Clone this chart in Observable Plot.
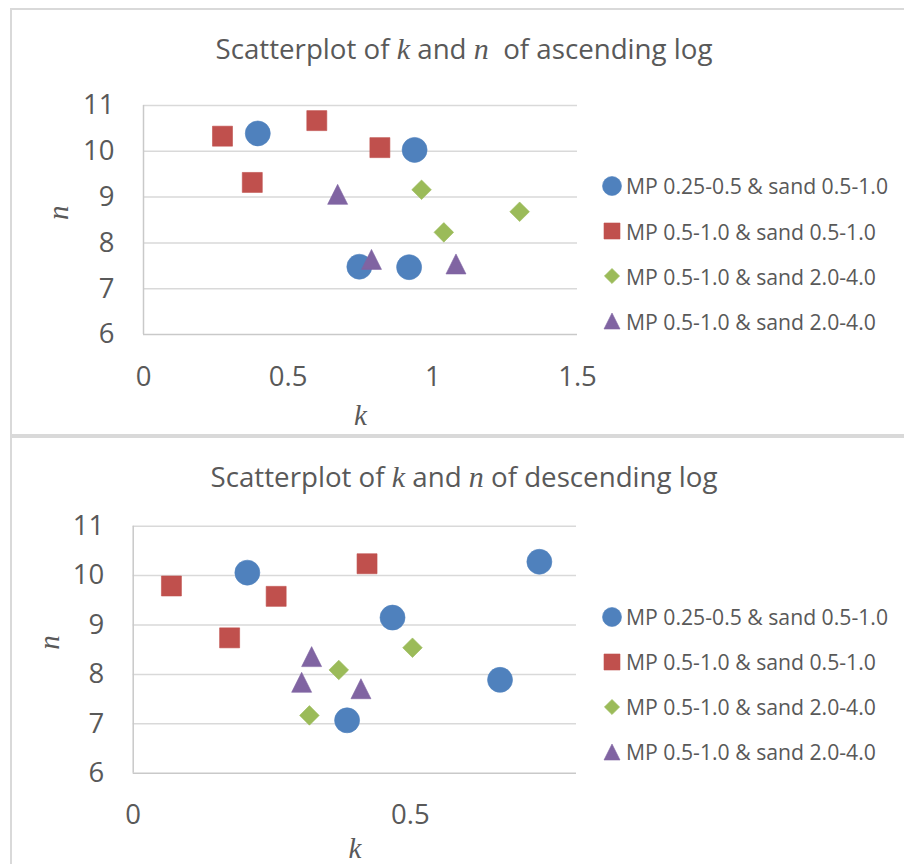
<!DOCTYPE html>
<html>
<head>
<meta charset="utf-8">
<script src="https://cdn.jsdelivr.net/npm/d3@7"></script>
<script src="https://cdn.jsdelivr.net/npm/@observablehq/plot@0.6"></script>
<style>
  html, body { margin: 0; padding: 0; background: #fff; }
  #root { position: relative; width: 904px; height: 864px; overflow: hidden; font-family: "Open Sans", sans-serif; color: #595959; }
  .panel { position: absolute; border: 2px solid #d9d9d9; box-sizing: border-box; }
  .title { position: absolute; left: 0; width: 928px; text-align: center; font-size: 27.7px; line-height: 27.7px; white-space: pre; }
  .math { font-family: "Liberation Serif", serif; font-style: italic; font-size: 30px; }
  .leg { position: absolute; left: 600px; height: 30px; display: flex; align-items: center; font-size: 21.2px; white-space: pre; }
  .leg svg { display: block; margin-right: 2px; }
  .plotwrap { position: absolute; left: 0; }
</style>
</head>
<body>
<div id="root">
  <div class="panel" style="left:10px; top:8px; width:910px; height:428px;"></div>
  <div class="panel" style="left:10px; top:436px; width:910px; height:440px;"></div>
</div>
<script>
// ---------- data ----------
const seriesNames = [
  "MP 0.25-0.5 & sand 0.5-1.0",
  "MP 0.5-1.0 & sand 0.5-1.0",
  "MP 0.5-1.0 & sand 2.0-4.0",
  "MP 0.5-1.0 & sand 2.0-4.0"
];
const seriesColors = ["#4F81BD", "#C0504D", "#9BBB59", "#8064A2"];

// ascending log
const ascBlueK = [0.395, 0.937, 0.746, 0.918];
const ascBlueN = [10.39, 10.03, 7.48, 7.47];
const ascRedK = [0.273, 0.599, 0.817, 0.376];
const ascRedN = [10.33, 10.67, 10.08, 9.32];
const ascGreenK = [0.961, 1.30, 1.038];
const ascGreenN = [9.16, 8.68, 8.23];
const ascPurpleK = [0.671, 0.788, 1.08];
const ascPurpleN = [9.06, 7.64, 7.54];

// descending log
const descBlueK = [0.206, 0.733, 0.468, 0.662, 0.386];
const descBlueN = [10.06, 10.28, 9.15, 7.89, 7.07];
const descRedK = [0.069, 0.258, 0.422, 0.174];
const descRedN = [9.79, 9.58, 10.24, 8.74];
const descGreenK = [0.504, 0.371, 0.318];
const descGreenN = [8.54, 8.09, 7.17];
const descPurpleK = [0.322, 0.304, 0.411];
const descPurpleN = [8.36, 7.84, 7.71];

const ascXTicks = [0, 0.5, 1, 1.5];
const descXTicks = [0, 0.5];
const yTicks = [6, 7, 8, 9, 10, 11];
const yGrid = [7, 8, 9, 10, 11];

// ---------- symbols (r = half extent) ----------
const half = (size) => Math.sqrt(size / Math.PI);
const symSquare = { draw(c, size) { const r = half(size); c.rect(-r, -r, 2 * r, 2 * r); } };
const symDiamond = { draw(c, size) { const r = half(size); c.moveTo(0, -r); c.lineTo(r, 0); c.lineTo(0, r); c.lineTo(-r, 0); c.closePath(); } };
const symTriangle = { draw(c, size) { const r = half(size); c.moveTo(0, -r); c.lineTo(r, r); c.lineTo(-r, r); c.closePath(); } };
const symCircle = { draw(c, size) { const r = half(size); c.moveTo(r, 0); c.arc(0, 0, r, 0, 2 * Math.PI); c.closePath(); } };
const seriesSymbols = [symCircle, symSquare, symDiamond, symTriangle];
const plotR = [12.5, 10, 9.8, 10];
const legendR = [9.5, 8, 7.6, 8];

function rows(ks, ns) { return ks.map((k, i) => ({ k, n: ns[i] })); }

function panel({ top, height, mt, mb, ml, mr, xDomain, xTicks, series, kDy, nDx, xPad }) {
  const marks = [
    Plot.ruleY(yGrid, { stroke: "#d9d9d9", strokeWidth: 1.5 }),
    Plot.ruleY([6], { stroke: "#c9c9c9", strokeWidth: 1.5 }),
    Plot.ruleX([0], { stroke: "#c9c9c9", strokeWidth: 1.5 }),
    Plot.axisX({ ticks: xTicks, tickSize: 0, tickPadding: xPad, fontSize: 27.5, tickFormat: (d) => String(d), label: null, fill: "#595959" }),
    Plot.axisY({ ticks: yTicks, tickSize: 0, tickPadding: 29, fontSize: 27.5, tickFormat: (d) => String(d), label: null, fill: "#595959" })
  ];
  series.forEach((s, i) => {
    marks.push(Plot.dot(rows(s[0], s[1]), {
      x: "k", y: "n", symbol: seriesSymbols[i], r: plotR[i],
      fill: seriesColors[i], stroke: seriesColors[i], strokeWidth: 0.6
    }));
  });
  marks.push(Plot.text(["k"], { frameAnchor: "bottom", dy: kDy, fontFamily: "Liberation Serif", fontStyle: "italic", fontSize: 29, fill: "#595959", lineAnchor: "middle" }));
  marks.push(Plot.text(["n"], { frameAnchor: "left", dx: nDx, rotate: -90, fontFamily: "Liberation Serif", fontStyle: "italic", fontSize: 29, fill: "#595959", lineAnchor: "middle" }));
  const svg = Plot.plot({
    width: 904, height,
    marginTop: mt, marginBottom: mb, marginLeft: ml, marginRight: mr,
    x: { domain: xDomain },
    y: { domain: [6, 11] },
    style: { fontFamily: "Open Sans", color: "#595959", background: "transparent", overflow: "visible" },
    marks
  });
  const wrap = document.createElement("div");
  wrap.className = "plotwrap";
  wrap.style.top = top + "px";
  wrap.appendChild(svg);
  return wrap;
}

const root = document.getElementById("root");

root.appendChild(panel({
  top: 0, height: 436, mt: 105, mb: 102, ml: 143, mr: 327,
  xDomain: [0, 1.5], xTicks: ascXTicks,
  series: [[ascBlueK, ascBlueN], [ascRedK, ascRedN], [ascGreenK, ascGreenN], [ascPurpleK, ascPurpleN]],
  kDy: 81, nDx: -85, xPad: 32
}));
root.appendChild(panel({
  top: 436, height: 428, mt: 89.7, mb: 91.3, ml: 132.7, mr: 328,
  xDomain: [0, 0.8], xTicks: descXTicks,
  series: [[descBlueK, descBlueN], [descRedK, descRedN], [descGreenK, descGreenN], [descPurpleK, descPurpleN]],
  kDy: 75.6, nDx: -83.7, xPad: 31
}));

// titles
function addTitle(y, parts) {
  const d = document.createElement("div");
  d.className = "title";
  d.style.top = y + "px";
  parts.forEach(([t, m]) => {
    const s = document.createElement("span");
    s.textContent = t;
    if (m) s.className = "math";
    d.appendChild(s);
  });
  root.appendChild(d);
}
addTitle(35, [["Scatterplot of "], ["k", 1], [" and "], ["n", 1], ["  of ascending log"]]);
addTitle(463.2, [["Scatterplot of "], ["k", 1], [" and "], ["n", 1], [" of descending log"]]);

// legends
function addLegend(centers) {
  centers.forEach((cy, i) => {
    const row = document.createElement("div");
    row.className = "leg";
    row.style.top = (cy - 15) + "px";
    const svg = d3.create("svg").attr("width", 24).attr("height", 30);
    const r = legendR[i];
    const p = d3.path();
    seriesSymbols[i].draw(p, r * r * Math.PI);
    svg.append("path").attr("d", p.toString()).attr("transform", "translate(12,15)")
      .attr("fill", seriesColors[i]).attr("stroke", seriesColors[i]).attr("stroke-width", 0.6);
    row.appendChild(svg.node());
    const t = document.createElement("span");
    t.textContent = seriesNames[i];
    row.appendChild(t);
    root.appendChild(row);
  });
}
addLegend([185.7, 231, 276, 321]);
addLegend([616.7, 661.7, 706.7, 751.7]);
</script>
</body>
</html>
